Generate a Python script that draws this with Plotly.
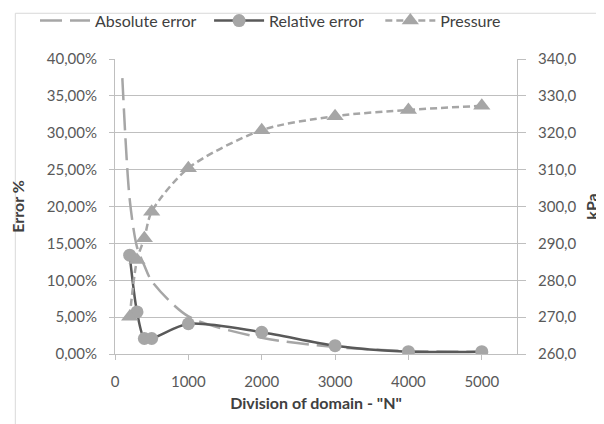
import plotly.graph_objects as go

# Data
n_abs = [100, 200, 300, 400, 500, 1000, 2000, 3000, 4000, 5000]
abs_error = [37.4, 21.0, 14.5, 12.0, 9.9, 5.1, 2.2, 0.95, 0.4, 0.3]  # %

n_rel = [200, 300, 400, 500, 1000, 2000, 3000, 4000, 5000]
rel_error = [13.4, 5.7, 2.1, 2.1, 4.1, 2.95, 1.13, 0.32, 0.32]  # %

n_p = [200, 300, 400, 500, 1000, 2000, 3000, 4000, 5000]
pressure = [270.1, 285.5, 291.4, 298.6, 310.4, 320.7, 324.5, 326.2, 327.3]  # kPa

x_ticks = [0, 1000, 2000, 3000, 4000, 5000]

FONT = "Lato, Carlito, Arial, sans-serif"
GRAY = "#a6a6a6"
DARK = "#595959"
GRID = "#bfbfbf"
TXT = "#404040"

fig = go.Figure()
fig.add_trace(go.Scatter(
    x=n_abs, y=[v / 100 for v in abs_error], name="Absolute error", legend="legend",
    mode="lines", line=dict(color=GRAY, width=2.5, dash="22px,8px", shape="spline", smoothing=0.8),
))
fig.add_trace(go.Scatter(
    x=n_rel, y=[v / 100 for v in rel_error], name="Relative error", legend="legend2",
    mode="lines+markers", line=dict(color=DARK, width=2.5, shape="spline", smoothing=0.8),
    marker=dict(symbol="circle", size=13, color=GRAY),
))
fig.add_trace(go.Scatter(
    x=n_p, y=pressure, name="Pressure", yaxis="y2", legend="legend3",
    mode="lines+markers", line=dict(color=GRAY, width=2.5, dash="7px,4px", shape="spline", smoothing=0.8),
    marker=dict(symbol="triangle-up", size=15, color=GRAY),
))

LEG = dict(orientation="h", xanchor="left", y=1.13, yanchor="middle",
           font=dict(size=16, color=TXT), itemwidth=50, bgcolor="rgba(0,0,0,0)")

# page is rendered with an 8px body margin: margins compensate for it
fig.update_layout(
    width=604, height=424,
    margin=dict(l=107, r=95, t=51, b=78, autoexpand=False),
    paper_bgcolor="white", plot_bgcolor="white",
    separators=",.",
    font=dict(family=FONT, size=15, color=DARK),
    showlegend=True,
    legend=dict(LEG, x=-0.199),
    legend2=dict(LEG, x=0.234),
    legend3=dict(LEG, x=0.66),
    xaxis=dict(
        range=[0, 5480], tickvals=x_ticks, tickformat="d", automargin=False,
        showgrid=False, zeroline=False,
        showline=True, linecolor=GRID, linewidth=1,
        ticks="outside", ticklen=5, tickcolor=GRID, ticklabelstandoff=9,
        title=dict(text='<b>Division of domain - "N"</b>', font=dict(size=16, color=TXT), standoff=8),
    ),
    yaxis=dict(
        range=[0, 0.40], dtick=0.05, tickformat=".2%", automargin=False,
        showgrid=True, gridcolor=GRID, gridwidth=1, zeroline=False,
        showline=True, linecolor=GRID, linewidth=1,
        ticks="outside", ticklen=5, tickcolor=GRID, ticklabelstandoff=9,
        title=dict(text="<b>Error %</b>", font=dict(size=16, color=TXT), standoff=21),
    ),
    yaxis2=dict(
        range=[260, 340], dtick=10, tickformat=".1f", automargin=False,
        overlaying="y", side="right",
        showgrid=False, zeroline=False,
        showline=True, linecolor=GRID, linewidth=1,
        ticks="outside", ticklen=8, tickcolor=GRID, ticklabelstandoff=9,
        title=dict(text="<b>kPa</b>", font=dict(size=16, color=TXT), standoff=11),
    ),
    shapes=[dict(type="rect", xref="paper", yref="paper",
                 x0=-0.248, x1=1.22, y0=-0.26, y1=1.155,
                 line=dict(color="#d9d9d9", width=1), layer="below")],
)

fig.write_html("out.html")
